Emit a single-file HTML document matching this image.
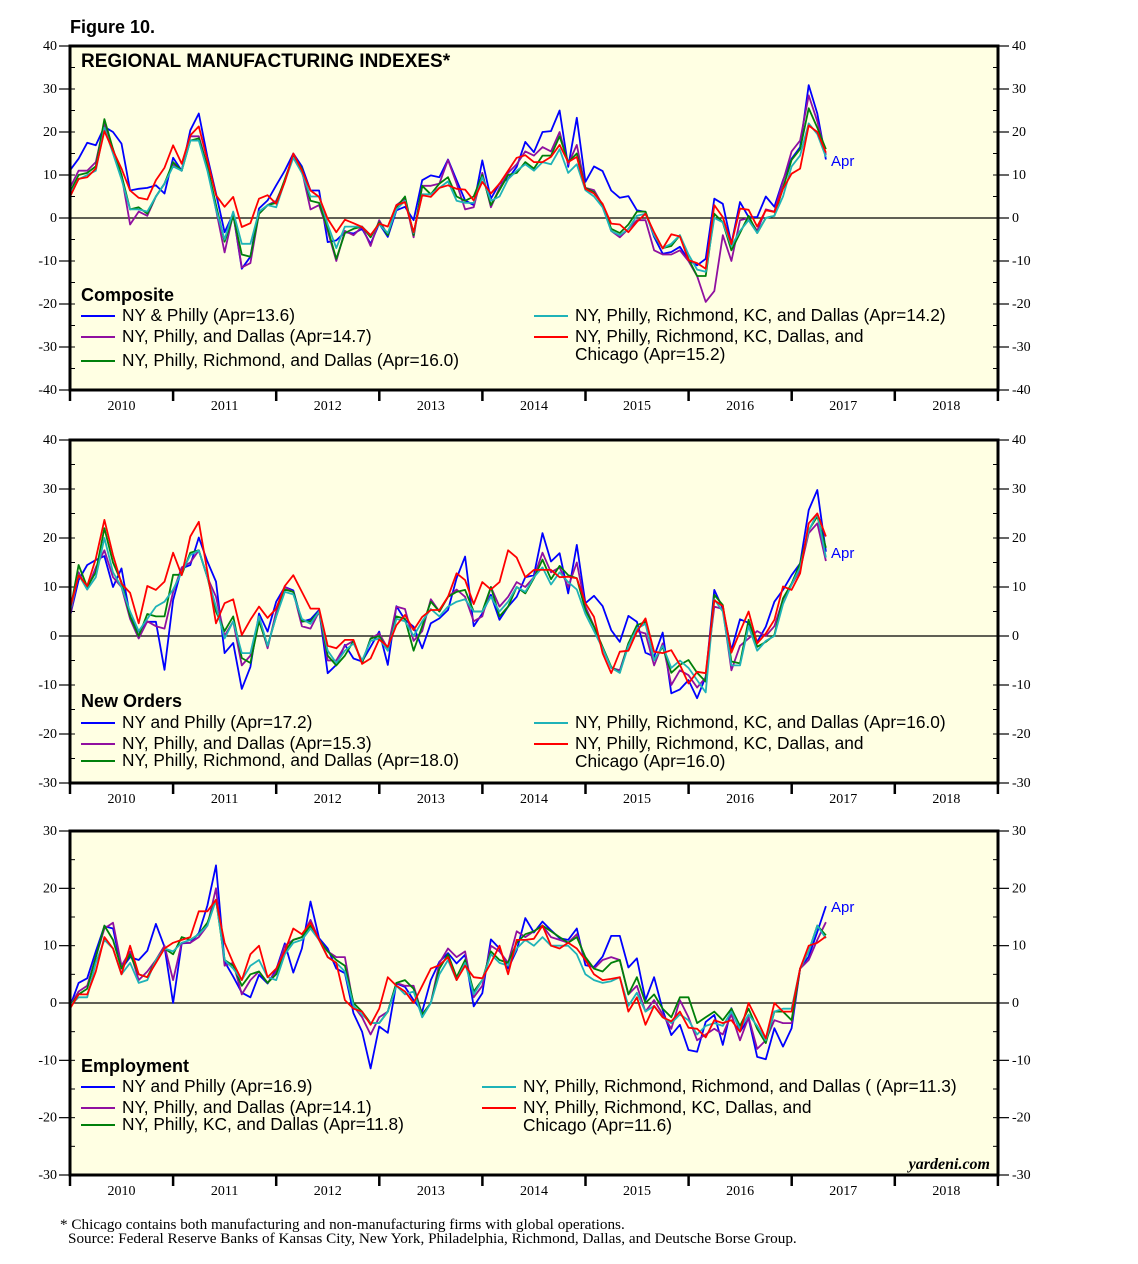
<!DOCTYPE html>
<html><head><meta charset="utf-8">
<style>
html,body{margin:0;padding:0;background:#fff;}
svg{display:block;}
.ax{font-family:"Liberation Serif",serif;font-size:14px;fill:#000;}
.lg{font-family:"Liberation Sans",sans-serif;font-size:17.3px;fill:#000;}
</style></head>
<body>
<svg id="chart" width="1138" height="1264" viewBox="0 0 1138 1264" xmlns="http://www.w3.org/2000/svg">
<text x="70" y="33" font-family="Liberation Sans, sans-serif" font-size="18" font-weight="bold">Figure 10.</text>
</svg>
<script>
// ---- data (monthly, Jan 2010 .. Apr 2017) ----
const years = ["2010","2011","2012","2013","2014","2015","2016","2017","2018"];
const seriesColors = ["#0000ff","#9010a0","#00800a","#1fb3b8","#ff0000"];

const p1Blue = [11.1,13.8,17.5,16.9,21.2,20,17.3,6.4,6.8,7, 7.6,5.7,14,11,20.4,24.3,14.2,5.7,-3.3,1, -11.8,-9,2.2,4.1,7.6,11,15,12,6.4,6.4, -5.6,-5.2,-3.3,-3.6,-2.5,-6,-1.3,-4.4,1.8,2.6, -0.5,8.8,9.9,9.5,13.6,8.8,4.1,3,13.4,4.5, 8,9.1,11.9,17.7,15.3,20,20.2,25,11.9,23.3, 8.4,12,10.9,6.4,4.7,5.1,1.8,1.4,-4.4,-8.3, -7.9,-6.7,-9.8,-11,-9.5,4.5,3.3,-6,3.7,0.2, 0.2,5,2.6,8.8,13.8,16.5,30.9,24.3,13.6];
const p1Purple = [7,11,11,13,22,16,10,-1.5,1.5,0.5, 5,8,12.5,11,19,19,12,2,-8,1, -11.5,-10.5,1,3,4,8.5,14.5,11,2,3, -3,-10,-3,-4,-2,-6.5,-0.5,-4,3,4.5, -4.5,7.5,7.5,8,13.5,8,2,2.5,10.5,2.5, 7,10.5,12.5,15.5,14.5,16.5,15.5,20,12.5,17, 7,6.5,3,-3,-4.5,-2.5,-0.5,-0.5,-7.5,-8.5, -8.5,-7.5,-10,-13.5,-19.5,-17,-4,-10,-0.5,0, -3,2,1.5,8.5,15.5,18,28.5,22.5,14.7];
const p1Green = [6,10,10.5,12,23,16,10,2,2.5,1, 5,8,13,11,18,18.5,12,3,-5.5,0.5, -8.5,-9,1,3,3.5,9,14.5,11.5,4,3.5, -2.5,-9.5,-3.5,-2.5,-2,-4.5,-1,-4,2.5,5, -4,7.5,5.5,8,9.5,5,4,5,10,3, 6.5,10,10.5,13,11.5,14.5,14.5,19,13,15, 7,6,3,-2.5,-3.5,-1.5,1.5,1.5,-4,-7, -6.5,-4,-9.5,-13.5,-13.5,1,-1,-7.5,-3.5,0.5, -3.5,0,0.5,7,13.5,16,25.5,21,16];
const p1Cyan = [5.5,9,10,11,21,15,9,2,2,1.5, 5,8,12,11,18,18,11,2,-5,1.5, -6,-6,1.5,3,2.5,8.5,14,10.5,5,5, -1.5,-7,-2,-2,-2,-4,-1.5,-3.5,2,4, -3.5,5.5,5.5,7,8.5,4,3.5,3.5,9.5,4, 5,9,11,12.5,11,13,12.5,16,10.5,12.5, 6.5,5,2.5,-3,-4,-2.5,0.5,1,-4,-7, -6,-4,-8.5,-12,-12.5,0,-1,-6.5,-3,-0.5, -3.5,0,0.5,5,12,14.5,22,19.5,14.2];
const p1Red = [4.9,9.1,9.5,11.5,20.2,15.7,11.5,6.4,4.7,4.3, 8.8,11.7,16.9,12.6,19.2,21.3,13.4,5.3,2.6,4.9, -2.1,-1.2,4.5,5.3,3.3,8.4,15,11.1,6.4,4.9, -0.2,-3.3,-0.4,-1.2,-2.1,-4,-1.3,-2,3,3.7, -3.3,5.3,4.9,7,7.6,6.8,6.6,4.1,8.4,5.7, 8,11,14,14.6,13,13,14.2,17,13,14.2, 6.8,5.7,3.3,-1.3,-1.5,-3.3,-0.9,1,-3.3,-7.1, -3.8,-4.3,-9.8,-10.5,-11.8,3,0.2,-6.1,2.2,1.9, -2,1.8,1.4,6.8,10.3,11.5,21.5,20,15.2];

const p2Blue = [4,11.4,14.5,15.5,16.3,10,13.8,4,0.9,2.9, 2.9,-6.9,7.3,13.8,14.5,20.1,15.2,11.1,-3.5,-1.4, -10.8,-6.3,4.6,0.9,7,10,9.3,2.9,3.4,5.3, -7.6,-5.9,-1.8,-4.6,-5.2,-2.2,0.9,-5.9,6.1,3.3, 1.9,-2.5,2.6,3.6,5.3,11.8,16.2,2,4.6,8.4, 3.3,6,8,12,12.4,21,15.2,16.9,8.7,18.6, 6.7,8.2,6.1,1.2,-1.2,4.1,2.9,-3.4,-4.2,0.7, -11.7,-10.9,-9,-12.7,-8.3,9.4,5.6,-2.9,3.4,2.7, -1.2,1.9,7,9.4,12.4,14.8,25.7,29.8,17.2];
const p2Purple = [4,13,9.5,14,17.5,12,10,3.5,-0.5,3, 2,1.5,9,14,15,17.5,12,8,0,3, -6,-4,3.5,-2.5,5,10,9,2,1.5,5, -5,-5,-2,-1,-5.5,-0.5,0.5,-2.5,6,5.5, -1,1,7.5,5,8,9.5,8,3,4,10, 6,8,11,10,12,17,13,14,10,15, 6,2,-2.5,-6.5,-7,-1.5,1,0.5,-6,-1.5, -10,-7,-8,-10.5,-8.5,6,5.5,-7,-2,-0.5, 1,0,2,7.5,10.5,13.5,21,23,15.3];
const p2Green = [5,14.5,10,13,22,15,11,4,0,4.5, 4,4,12.5,12.5,17,17.5,12,5,1,4, -4.5,-5.5,3,-2,4,9.5,9,3,3,5, -4,-6,-4,-1,-5.5,-0.5,0,-3,4,3.5, -3,2,7,5,8,9,9.4,5,5,10, 4,6,10,8.7,11.8,15.6,11.6,14.3,12.4,11.8, 5.3,1.9,-2.2,-6.3,-7.5,-1.5,2.2,2.9,-4.9,-2.2, -7.5,-5.9,-4.9,-7.5,-9.3,8.4,6.3,-5.2,-5.6,3.3, -2.2,-1.2,0.2,7.7,10.7,14.8,21.6,24.4,18];
const p2Cyan = [5,12.5,9.5,12,20,13,10,5,1,3.5, 6,7,9.5,13,16.5,17.5,12,6,-0.5,3, -3.5,-3.5,4,-2,4,9,8.5,3.5,2.5,5, -3,-5.5,-3,-1.5,-5,-1,-0.5,-3,3.5,3, 0,3,5.5,4,6,7,7.5,5,5,8, 5,7,10,9,12,14,10.5,13,11,9.5, 4.5,1,-2.5,-6.5,-7.5,-2,1.5,2.5,-5,-2, -6.5,-5,-6.5,-9,-11.5,7.5,5,-6,-6,2, -3,-1,0,6.5,10.5,14,21.5,25,16];
const p2Red = [5.6,12.4,10.2,15.8,23.7,16.5,10.7,8.8,2.6,10.2, 9.4,11.1,17,12.4,20.3,23.3,13.1,2.6,6.7,7.5, 0.2,3.3,6,3.7,5.6,10.2,12.4,9,5.6,5.6, -2,-2.5,-0.8,-0.8,-5.7,-4.6,-0.7,-2.2,2.2,4.3, 1.2,3.9,5.3,5.3,8,12.8,11.4,6.5,11,9.5, 11,17.5,16,12,13.5,13.5,13.5,12,12.1,11.8, 6.7,3.9,-3.5,-7.6,-3.2,-3,0.9,3.6,-3.2,-3.5, -2.9,-5.9,-9.7,-7.3,-7.6,7.3,6.1,-3.4,0.9,5, -1.5,0.5,3.3,10.1,9.4,12.8,23,25,20.3];

const p3Blue = [-0.6,3.5,4.3,9,13.4,13,6,8,7.5,9.1, 13.8,9.8,0,10.4,10.5,12.2,17,24,7.2,4.6, 1.8,1,4.9,3.4,5.8,10.4,5.3,9.5,17.7,11.3, 9.5,6,5.2,-1.8,-5,-11.4,-4.1,-5.2,3.4,2.8, 0.5,-1.5,4,7.2,8.7,6.9,8.4,-0.6,1.7,11.1, 9.5,6,9.2,14.8,12.3,14.2,12.7,11.3,11,13, 6.6,6.3,8.1,11.7,11.7,6.2,7.8,0.5,4.5,-1.2, -5.6,-3.8,-8.2,-8.5,-3.3,-2.1,-7.3,-0.9,-5,-2.7, -9.4,-9.8,-4.4,-7.6,-4.4,6,8.1,12.4,16.9];
const p3Purple = [-0.5,2,3,8,13,14,6.5,9,4,5.5, 7.5,10,4,10.5,10.5,11.5,13.5,20,6.5,7, 1.5,4,5.5,3.5,5.5,10,11,11.5,14.5,11, 9,8,8,-0.5,-2.5,-5.5,-2.5,-1.5,3.5,3, 3,-2,0,7,9.5,8,9,1,3,10, 9,7,12.5,11.5,12.5,13.5,11.5,11,10.5,12, 7.5,6,7.5,8,7.5,1.5,3,-1.5,0.5,-2, -4.5,0.5,-2.5,-6.5,-5.5,-4.5,-5.5,-2,-6.5,-2.5, -8,-6.5,-3,-3.5,-3.5,6,7.5,11,14.1];
const p3Green = [-0.5,1.5,2.5,8,13.5,11,6,8.5,5,4.5, 7.5,9.5,8.5,11.5,11,12,14,18,7.5,6.5, 3,5,5.5,3.5,5,9,11,11.5,13.5,11, 9,7.5,6.5,0,-1.5,-3.5,-3.5,-1.5,3.5,4, 2.5,-2,0,6,8.5,4.5,7.5,2,4,9, 7.5,7,10.5,12,12.5,13.5,12.5,11.5,10.5,11.5, 8,6,5.5,7,7.5,1.5,4.5,0,1.5,-1, -2.5,1,1,-3.5,-2.5,-1.5,-3,-1,-4,-1, -4.5,-7,-1.5,-1.5,-3,6,9,13.5,11.8];
const p3Cyan = [-0.5,1,1,7,11,9.5,5,7,3.5,4, 7.5,9.5,9,10.5,11,12,13.5,18,7.5,6, 4,6.5,7.5,4.5,4,8.5,10.5,11,13,11, 8,7,5.5,-0.5,-2,-3.5,-3.5,-1.5,3,1.5, 2,-2.5,0,5,7.5,4,7,1.5,4,8.5, 7,6.5,9.5,11,10,11.5,10,10,10,8.5, 5,4,3.5,3.8,4.5,-0.5,1.8,-1.5,-0.5,-2.5, -3.5,-2,-3,-5.5,-4,-3.5,-4,-1.5,-4.5,-2, -4,-6.5,-1.5,-1,-1,6,9,13.5,11.3];
const p3Red = [-1,1.5,1.5,5.5,11.5,9.5,5,10,5,4.5, 7,9.5,10.5,11,11.5,16,16,18,10.5,7, 4,8.5,10,4.5,6,9,13,12,14,11, 8,7,0.5,-1,-1.5,-3.8,-1,4.5,3,2, 0,3,6,6.6,8,4,6.5,4.5,4.3,7, 10,5,11,11,11.2,13.5,10,9.5,10.5,9.5, 7.5,5,4,4.2,4.5,-1.5,1,-3.8,-0.5,-2.5, -3.2,-1.5,-4.3,-4.5,-6,-3,-3.5,-3,-5,0, -3,-6.2,0,-1.5,-1.5,6,10,10.5,11.6];

const p1Ticks = [-40,-30,-20,-10,0,10,20,30,40];
const p2Ticks = [-30,-20,-10,0,10,20,30,40];
const p3Ticks = [-30,-20,-10,0,10,20,30];

const NS = "http://www.w3.org/2000/svg";
const svg = document.getElementById('chart');
const X0 = 70, X1 = 998, YEARW = 103.1, MONTHW = 8.59;
function mk(tag, attrs, parent){ const e=document.createElementNS(NS,tag); for(const k in attrs) e.setAttribute(k,attrs[k]); (parent||svg).appendChild(e); return e; }
function xScale(i){ return X0 + i*MONTHW; }

function panel(cfg){
  const g = mk('g',{});
  
  
  const yS = v => cfg.top + (cfg.max - v)/(cfg.max - cfg.min)*(cfg.bot - cfg.top);
  const bg = mk('rect',{x:X0,y:cfg.top,width:X1-X0,height:cfg.bot-cfg.top,fill:'#ffffe3'},g);
  
  
  const z = mk('line',{x1:X0,x2:X1,y1:yS(0),y2:yS(0),stroke:'#000','stroke-width':1.3},g);
  
  
  for(let v=cfg.min; v<=cfg.max; v+=5){
    const y=yS(v);
    mk('line',{x1:X0,x2:X0+5,y1:y,y2:y,stroke:'#000','stroke-width':1},g);
    mk('line',{x1:X1-5,x2:X1,y1:y,y2:y,stroke:'#000','stroke-width':1},g);
  }
  cfg.ticks.forEach(v=>{
    const y=yS(v);
    mk('line',{x1:X0-11,x2:X0,y1:y,y2:y,stroke:'#000','stroke-width':1.2},g);
    mk('line',{x1:X1,x2:X1+11,y1:y,y2:y,stroke:'#000','stroke-width':1.2},g);
    const tl = mk('text',{x:X0-13,y:y+4,'text-anchor':'end',class:'ax'},g);
    tl.textContent = v;
    
    
    const tr = mk('text',{x:X1+14,y:y+4,class:'ax'},g);
    tr.textContent = v;
    
    
  });
  for(let k=0;k<=years.length;k++){
    const x = X0 + k*YEARW;
    mk('line',{x1:x,x2:x,y1:cfg.bot,y2:cfg.bot+11,stroke:'#000','stroke-width':2.5},g);
  }
  years.forEach((yr,k)=>{
    const t = mk('text',{x:X0+(k+0.5)*YEARW,y:cfg.bot+20,'text-anchor':'middle',class:'ax'},g);
    t.textContent = yr;
    
    
  });
  cfg.series.forEach((s,si)=>{
    const d = s.map((v,i)=>(i?'L':'M')+xScale(i).toFixed(1)+' '+yS(v).toFixed(1)).join(' ');
    const p = mk('path',{d:d,fill:'none',stroke:seriesColors[si],'stroke-width':1.8,'stroke-linejoin':'round'},g);
    
    
  });
  const fr = mk('rect',{x:X0,y:cfg.top,width:X1-X0,height:cfg.bot-cfg.top,fill:'none',stroke:'#000','stroke-width':3},g);
  
  
  const apr = mk('text',{x:831,y:cfg.aprY,class:'lg',style:'fill:#0000ff;font-size:15px'},g);
  apr.textContent='Apr';
  
  
  const h = mk('text',{x:81,y:cfg.headY,style:'font-family:"Liberation Sans",sans-serif;font-size:18px;font-weight:bold'},g);
  h.textContent = cfg.heading;
  
  
  cfg.legend.forEach(L=>{
    const ll = mk('line',{x1:L.x,x2:L.x+34,y1:L.y-5,y2:L.y-5,stroke:seriesColors[L.c],'stroke-width':2},g);
    
    
    L.lines.forEach((txt,j)=>{
      const t = mk('text',{x:L.x+41,y:L.y+j*18,class:'lg'},g);
      t.textContent = txt;
      
      
    });
  });
}

panel({name:'composite-panel',top:46,bot:390,min:-40,max:40,ticks:p1Ticks,
  series:[p1Blue,p1Purple,p1Green,p1Cyan,p1Red],
  seriesNames:['composite-ny-philly','composite-ny-philly-dallas','composite-ny-philly-richmond-dallas','composite-five-banks','composite-six-banks'],
  aprY:166, headY:301, heading:'Composite',
  legend:[
    {x:81,y:321,c:0,lines:['NY & Philly (Apr=13.6)']},
    {x:81,y:342,c:1,lines:['NY, Philly, and Dallas (Apr=14.7)']},
    {x:81,y:366,c:2,lines:['NY, Philly, Richmond, and Dallas (Apr=16.0)']},
    {x:534,y:321,c:3,lines:['NY, Philly, Richmond, KC, and Dallas (Apr=14.2)']},
    {x:534,y:342,c:4,lines:['NY, Philly, Richmond, KC, Dallas, and','Chicago (Apr=15.2)']}
  ]});
{
  const t = mk('text',{x:81,y:67,style:'font-family:"Liberation Sans",sans-serif;font-size:19px;font-weight:bold'});
  t.textContent='REGIONAL MANUFACTURING INDEXES*';
  
  
}
panel({name:'new-orders-panel',top:440,bot:783,min:-30,max:40,ticks:p2Ticks,
  series:[p2Blue,p2Purple,p2Green,p2Cyan,p2Red],
  seriesNames:['orders-ny-philly','orders-ny-philly-dallas','orders-ny-philly-richmond-dallas','orders-five-banks','orders-six-banks'],
  aprY:558, headY:707, heading:'New Orders',
  legend:[
    {x:81,y:728,c:0,lines:['NY and Philly (Apr=17.2)']},
    {x:81,y:749,c:1,lines:['NY, Philly, and Dallas (Apr=15.3)']},
    {x:81,y:766,c:2,lines:['NY, Philly, Richmond, and Dallas (Apr=18.0)']},
    {x:534,y:728,c:3,lines:['NY, Philly, Richmond, KC, and Dallas (Apr=16.0)']},
    {x:534,y:749,c:4,lines:['NY, Philly, Richmond, KC, Dallas, and','Chicago (Apr=16.0)']}
  ]});
panel({name:'employment-panel',top:831,bot:1175,min:-30,max:30,ticks:p3Ticks,
  series:[p3Blue,p3Purple,p3Green,p3Cyan,p3Red],
  seriesNames:['employment-ny-philly','employment-ny-philly-dallas','employment-ny-philly-kc-dallas','employment-five-banks','employment-six-banks'],
  aprY:912, headY:1072, heading:'Employment',
  legend:[
    {x:81,y:1092,c:0,lines:['NY and Philly (Apr=16.9)']},
    {x:81,y:1113,c:1,lines:['NY, Philly, and Dallas (Apr=14.1)']},
    {x:81,y:1130,c:2,lines:['NY, Philly, KC, and Dallas (Apr=11.8)']},
    {x:482,y:1092,c:3,lines:['NY, Philly, Richmond, Richmond, and Dallas ( (Apr=11.3)']},
    {x:482,y:1113,c:4,lines:['NY, Philly, Richmond, KC, Dallas, and','Chicago (Apr=11.6)']}
  ]});
{
  const w = mk('text',{x:990,y:1169,'text-anchor':'end',style:'font-family:"Liberation Serif",serif;font-size:16px;font-style:italic;font-weight:bold'});
  w.textContent='yardeni.com';
  
  
  const f1 = mk('text',{x:60,y:1229,style:'font-family:"Liberation Serif",serif;font-size:15.2px'});
  f1.textContent='* Chicago contains both manufacturing and non-manufacturing firms with global operations.';
  
  
  const f2 = mk('text',{x:68,y:1243,style:'font-family:"Liberation Serif",serif;font-size:15.2px'});
  f2.textContent='Source: Federal Reserve Banks of Kansas City, New York, Philadelphia, Richmond, Dallas, and Deutsche Borse Group.';
  
  
}
</script>
</body></html>
